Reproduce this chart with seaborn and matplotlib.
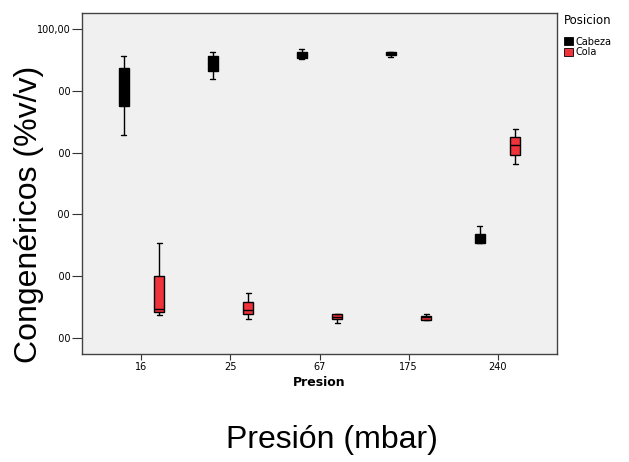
import numpy as np
import pandas as pd
import seaborn as sns
import matplotlib
matplotlib.use("Agg")
import matplotlib.pyplot as plt
from matplotlib.patches import Patch

# ---- data (min, Q1, median, Q3, max) ----
presion = ["16", "25", "67", "175", "240"]
posiciones = ["Cabeza", "Cola"]
cabeza_16 = [65.8, 75.0, 80.0, 87.3, 91.1]
cabeza_25 = [83.7, 86.5, 89.0, 91.1, 92.5]
cabeza_67 = [90.2, 90.6, 91.5, 92.7, 93.6]
cabeza_175 = [90.9, 91.5, 92.0, 92.5, 92.5]
cabeza_240 = [30.6, 30.6, 32.0, 33.6, 36.2]
cola_16 = [7.5, 8.5, 9.3, 20.0, 30.8]
cola_25 = [6.0, 7.6, 9.1, 11.7, 14.5]
cola_67 = [4.9, 6.1, 6.7, 7.6, 7.6]
cola_175 = [5.9, 5.9, 6.6, 7.0, 7.6]
cola_240 = [56.2, 59.2, 62.4, 65.0, 67.7]
ytick_vals = [0, 20, 40, 60, 80, 100]
ytick_labels = ["0,00", "20,00", "40,00", "60,00", "80,00", "100,00"]

cabeza = [cabeza_16, cabeza_25, cabeza_67, cabeza_175, cabeza_240]
cola = [cola_16, cola_25, cola_67, cola_175, cola_240]

rows = []
for p, vals in zip(presion, cabeza):
    for v in vals:
        rows.append({"Presion": p, "Posicion": "Cabeza", "valor": v})
for p, vals in zip(presion, cola):
    for v in vals:
        rows.append({"Presion": p, "Posicion": "Cola", "valor": v})
df = pd.DataFrame(rows)

sns.set_style("white")
plt.rcParams["font.family"] = ["DejaVu Sans"]
plt.rcParams["text.color"] = "black"
plt.rcParams["xtick.color"] = "black"
plt.rcParams["ytick.color"] = "black"
plt.rcParams["axes.labelcolor"] = "black"

colors = {"Cabeza": "#000000", "Cola": "#f0323a"}

fig = plt.figure(figsize=(6.29, 4.62), dpi=100)
ax = fig.add_axes([0.130, 0.234, 0.756, 0.738])
ax.set_facecolor("#f0f0f0")

sns.boxplot(data=df, x="Presion", y="valor", hue="Posicion", order=presion,
            hue_order=posiciones, palette=colors, saturation=1,
            linecolor="black", linewidth=1.0, whis=(0, 100), width=0.8,
            gap=0.72, fliersize=0, ax=ax, legend=False)

ax.set_xlim(-0.67, 4.67)
ax.set_ylim(-5.2, 105.2)
ax.set_yticks(ytick_vals)
ax.set_yticklabels(ytick_labels, fontsize=7)
ax.tick_params(axis="y", direction="out", length=7, width=0.8, color="#333333",
               left=True, pad=1)
ax.tick_params(axis="x", direction="out", length=4, width=0.8, color="#333333",
               bottom=True, labelsize=7, pad=2)
for s in ax.spines.values():
    s.set_color("#444444")
    s.set_linewidth(1.0)
ax.set_ylabel("")
ax.set_xlabel("Presion", fontsize=9, fontweight="bold", labelpad=3)

# legend
handles = [Patch(facecolor=colors[p], edgecolor="black", linewidth=0.6, label=p)
           for p in posiciones]
leg = fig.legend(handles=handles, title="Posicion", loc="upper left",
                 bbox_to_anchor=(0.890, 0.978), frameon=False, fontsize=7,
                 title_fontsize=8.5, handlelength=1.0, handleheight=0.9,
                 handletextpad=0.2, labelspacing=0.05, borderaxespad=0.2,
                 borderpad=0.2)
leg._legend_box.align = "left"
leg._legend_box.sep = 7

# large outer labels
fig.text(0.046, 0.537, "Congenéricos (%v/v)", rotation=90, fontsize=23,
         family="Liberation Sans", ha="center", va="center",
         bbox=dict(facecolor="white", edgecolor="none", pad=10))
fig.text(0.527, 0.047, "Presión (mbar)", fontsize=23,
         family="Liberation Sans", ha="center", va="center")

fig.savefig("out.png", dpi=100)
